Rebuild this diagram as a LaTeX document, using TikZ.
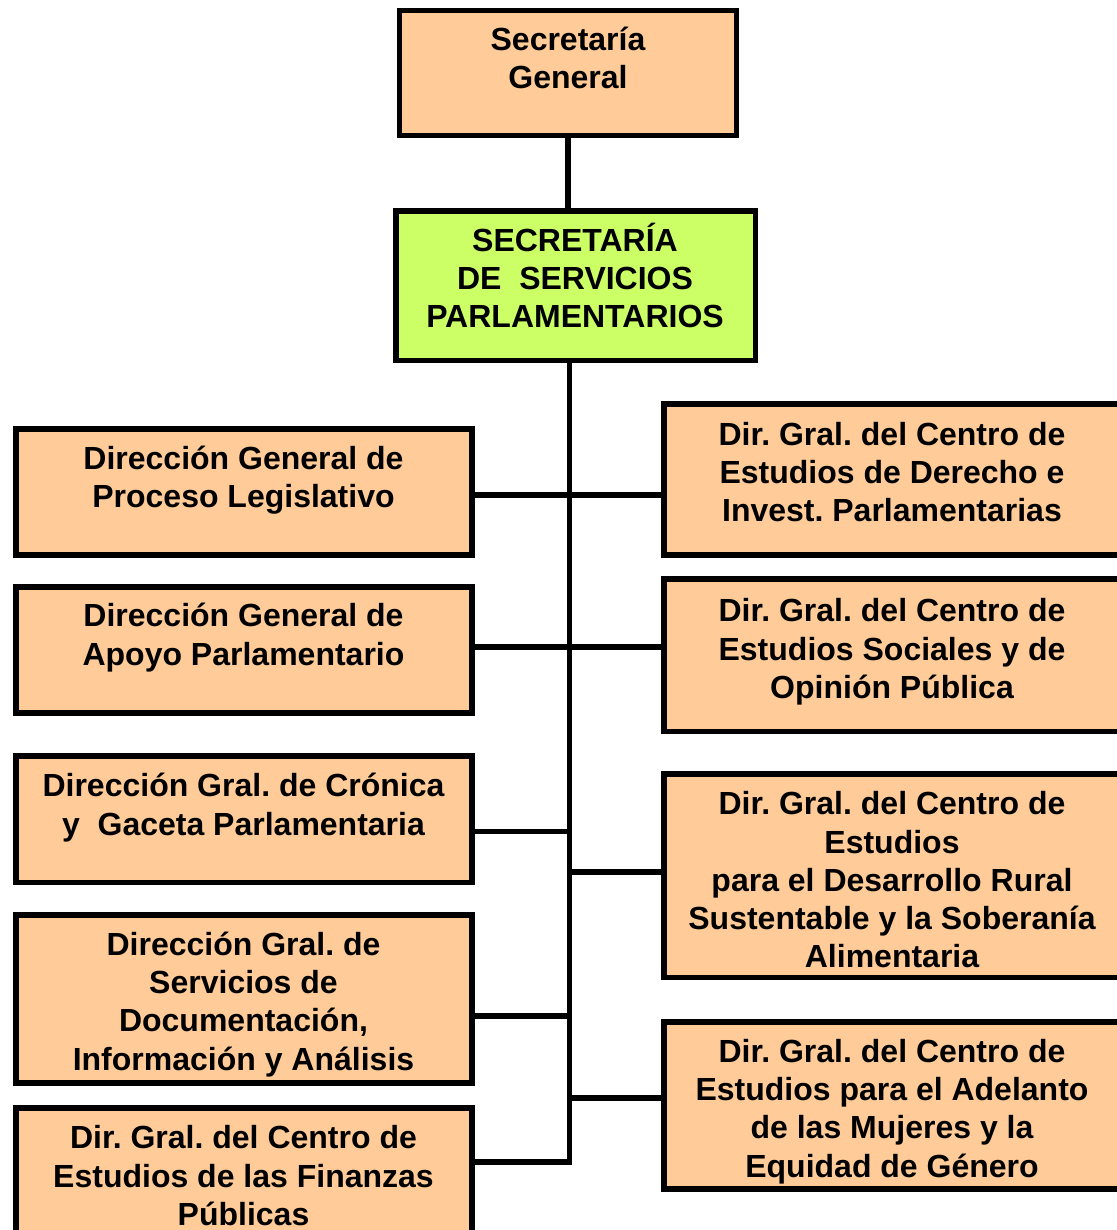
\documentclass[tikz,border=0pt]{standalone}
\usepackage{fontspec}
\setmainfont{Liberation Sans}
\frenchspacing
\definecolor{peach}{HTML}{FFCC99}
\definecolor{lime}{HTML}{CCFF66}
\begin{document}
\begin{tikzpicture}[x=1pt,y=-1pt,
  box/.style={rectangle,draw=black,line width=5.5pt,fill=peach,inner sep=0pt},
  greenbox/.style={box,fill=lime},
  lbl/.style={anchor=north,inner sep=0pt,align=center,
    font=\fontsize{32}{38.3}\selectfont\bfseries\frenchspacing},
  conn/.style={line width=5.5pt}]
\useasboundingbox (0,0) rectangle (1116,1230);
% boxes
\node[box,minimum width=337pt,minimum height=125pt] (sg) at (568,73) {};
\node[greenbox,minimum width=359.5pt,minimum height=149.5pt] (ssp) at (575.75,285.75) {};
\node[box,minimum width=456pt,minimum height=126pt] (l1) at (244,492) {};
\node[box,minimum width=456pt,minimum height=126pt] (l2) at (244,650) {};
\node[box,minimum width=456pt,minimum height=126.5pt] (l3) at (244,819.25) {};
\node[box,minimum width=456pt,minimum height=168pt] (l4) at (244,999) {};
\node[box,minimum width=456pt,minimum height=154pt] (l5) at (244,1185) {};
\node[box,minimum width=458pt,minimum height=151pt] (r1) at (893,479.5) {};
\node[box,minimum width=458pt,minimum height=152.5pt] (r2) at (893,655.25) {};
\node[box,minimum width=458pt,minimum height=203.5pt] (r3) at (893,875.75) {};
\node[box,minimum width=458pt,minimum height=167pt] (r4) at (893,1105.5) {};
% labels (anchor north = first baseline - 30)
\node[lbl] (sgt) at (568,20) {\rule{0pt}{30pt}Secretaría\\General};
\node[lbl] (sspt) at (575,221) {\rule{0pt}{30pt}SECRETARÍA\\DE~~SERVICIOS\\PARLAMENTARIOS};
\node[lbl] (l1t) at (243.5,439) {\rule{0pt}{30pt}Dirección General de\\Proceso Legislativo};
\node[lbl] (l2t) at (243.5,596.5) {\rule{0pt}{30pt}Dirección General de\\Apoyo Parlamentario};
\node[lbl] (l3t) at (243.5,766.5) {\rule{0pt}{30pt}Dirección Gral. de Crónica\\y~~Gaceta Parlamentaria};
\node[lbl] (l4t) at (243.5,925) {\rule{0pt}{30pt}Dirección Gral. de\\Servicios de\\Documentación,\\Información y Análisis};
\node[lbl] (l5t) at (243.5,1118.5) {\rule{0pt}{30pt}Dir. Gral. del Centro de\\Estudios de las Finanzas\\Públicas};
\node[lbl] (r1t) at (892,415) {\rule{0pt}{30pt}Dir. Gral. del Centro de\\Estudios de Derecho e\\Invest. Parlamentarias};
\node[lbl] (r2t) at (892,591.5) {\rule{0pt}{30pt}Dir. Gral. del Centro de\\Estudios Sociales y de\\Opinión Pública};
\node[lbl] (r3t) at (892,784.5) {\rule{0pt}{30pt}Dir. Gral. del Centro de\\Estudios\\para el Desarrollo Rural\\Sustentable y la Soberanía\\Alimentaria};
\node[lbl] (r4t) at (892,1032) {\rule{0pt}{30pt}Dir. Gral. del Centro de\\Estudios para el Adelanto\\de las Mujeres y la\\Equidad de Género};
% connector coordinates
\coordinate (tb) at (569.5,1162);
\coordinate (j1) at (569.5,495);
\coordinate (j2) at (569.5,647);
\coordinate (j3) at (569.5,831.5);
\coordinate (j4) at (569.5,1016);
\coordinate (j5) at (569.5,872);
\coordinate (j6) at (569.5,1098);
% connectors
\draw[conn] (sg.south) -- (sg.south |- ssp.north);
\draw[conn] (ssp.south -| tb) -- ([yshift=-2.75pt]tb);
\draw[conn] (l1.east |- j1) -- (r1.west |- j1);
\draw[conn] (l2.east |- j2) -- (r2.west |- j2);
\draw[conn] (l3.east |- j3) -- (j3);
\draw[conn] (l4.east |- j4) -- (j4);
\draw[conn] (l5.east |- tb) -- ([xshift=2.75pt]tb);
\draw[conn] (j5) -- (r3.west |- j5);
\draw[conn] (j6) -- (r4.west |- j6);
\end{tikzpicture}
\end{document}
